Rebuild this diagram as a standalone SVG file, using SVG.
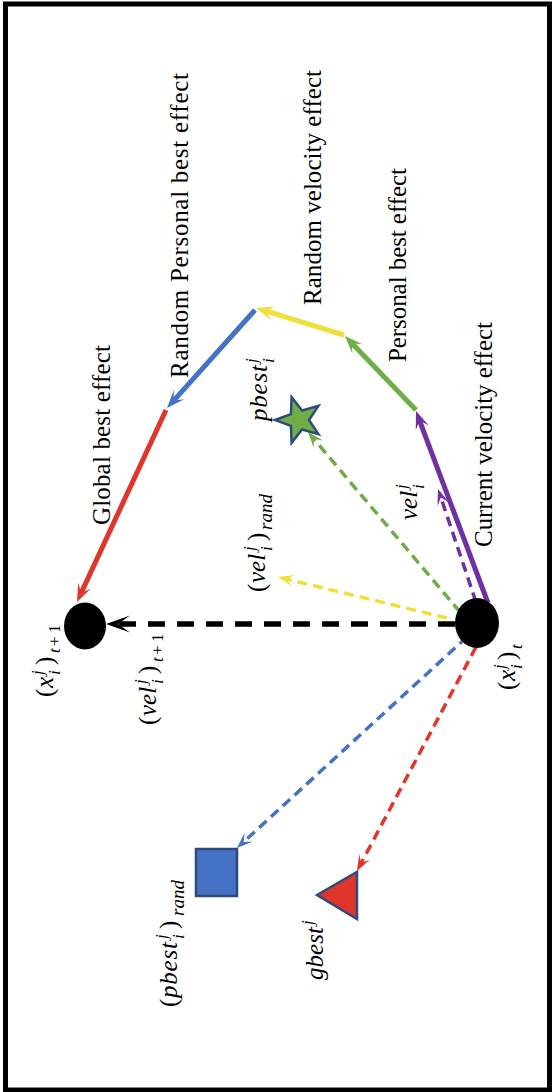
<svg xmlns="http://www.w3.org/2000/svg" width="552" height="1092" viewBox="0 0 552 1092">
<style>
.lbl{font-family:"Liberation Serif","Times New Roman",serif;font-size:25px;fill:#000}
.m{font-family:"Liberation Serif","Times New Roman",serif;font-size:25px;fill:#000}
.it{font-style:italic}
.s{font-size:17px}
.r{font-size:19px}
.sol{fill:none;stroke-width:5}
.dsh{fill:none;stroke-width:3.5;stroke-dasharray:10 6}
</style>
<defs>
<marker id="aP" markerUnits="userSpaceOnUse" orient="auto" overflow="visible" markerWidth="1" markerHeight="1"><path d="M10,0 L-8,-7 L0,0 L-8,7 Z" fill="#7030A0"/></marker>
<marker id="aG" markerUnits="userSpaceOnUse" orient="auto" overflow="visible" markerWidth="1" markerHeight="1"><path d="M10,0 L-8,-7 L0,0 L-8,7 Z" fill="#70AD47"/></marker>
<marker id="aY" markerUnits="userSpaceOnUse" orient="auto" overflow="visible" markerWidth="1" markerHeight="1"><path d="M10,0 L-8,-7 L0,0 L-8,7 Z" fill="#EEE038"/></marker>
<marker id="aB" markerUnits="userSpaceOnUse" orient="auto" overflow="visible" markerWidth="1" markerHeight="1"><path d="M10,0 L-8,-7 L0,0 L-8,7 Z" fill="#4472C4"/></marker>
<marker id="aR" markerUnits="userSpaceOnUse" orient="auto" overflow="visible" markerWidth="1" markerHeight="1"><path d="M10,0 L-8,-7 L0,0 L-8,7 Z" fill="#E0352A"/></marker>
<marker id="dP" markerUnits="userSpaceOnUse" orient="auto" overflow="visible" markerWidth="1" markerHeight="1"><path d="M9,0 L-7,-6 L0,0 L-7,6 Z" fill="#7030A0"/></marker>
<marker id="dG" markerUnits="userSpaceOnUse" orient="auto" overflow="visible" markerWidth="1" markerHeight="1"><path d="M9,0 L-7,-6 L0,0 L-7,6 Z" fill="#70AD47"/></marker>
<marker id="dY" markerUnits="userSpaceOnUse" orient="auto" overflow="visible" markerWidth="1" markerHeight="1"><path d="M9,0 L-7,-6 L0,0 L-7,6 Z" fill="#EEE038"/></marker>
<marker id="dB" markerUnits="userSpaceOnUse" orient="auto" overflow="visible" markerWidth="1" markerHeight="1"><path d="M9,0 L-7,-6 L0,0 L-7,6 Z" fill="#4472C4"/></marker>
<marker id="dR" markerUnits="userSpaceOnUse" orient="auto" overflow="visible" markerWidth="1" markerHeight="1"><path d="M9,0 L-7,-6 L0,0 L-7,6 Z" fill="#E0352A"/></marker>
<marker id="aK" markerUnits="userSpaceOnUse" orient="auto" overflow="visible" markerWidth="1" markerHeight="1"><path d="M12,0 L-12,-8.5 L0,0 L-12,8.5 Z" fill="#000"/></marker>
</defs>

<rect id="frame" x="5.5" y="4" width="544" height="1086" fill="none" stroke="#000" stroke-width="5"/>

<g id="connectors">
  <line x1="455" y1="624" x2="118" y2="624" stroke="#000" stroke-width="5.5" stroke-dasharray="17 12" marker-end="url(#aK)"/>
  <line class="sol" x1="488" y1="603" x2="419.5" y2="420.4" stroke="#7030A0" marker-end="url(#aP)"/>
  <line class="sol" x1="416" y1="410" x2="351.9" y2="343.2" stroke="#70AD47" marker-end="url(#aG)"/>
  <line class="sol" x1="344" y1="335" x2="265.6" y2="310.9" stroke="#EEE038" marker-end="url(#aY)"/>
  <line class="sol" x1="255" y1="310" x2="173.7" y2="400.6" stroke="#4472C4" marker-end="url(#aB)"/>
  <line class="sol" x1="166" y1="410" x2="81.2" y2="592.9" stroke="#E0352A" marker-end="url(#aR)"/>
  <line class="dsh" x1="476" y1="602" x2="440.9" y2="497.5" stroke="#7030A0" marker-end="url(#dP)"/>
  <line class="dsh" x1="460" y1="612" x2="313.8" y2="438.9" stroke="#70AD47" marker-end="url(#dG)"/>
  <line class="dsh" x1="447" y1="618" x2="286.7" y2="579.1" stroke="#EEE038" marker-end="url(#dY)"/>
  <line class="dsh" x1="467" y1="637" x2="243.6" y2="841.9" stroke="#4472C4" marker-end="url(#dB)"/>
  <line class="dsh" x1="476" y1="647" x2="361.2" y2="863.1" stroke="#E0352A" marker-end="url(#dR)"/>
</g>

<g id="x_t">
  <ellipse cx="477" cy="623" rx="22" ry="25" fill="#000"/>
  <g class="m" transform="translate(515,690) rotate(-90)">
    <text><tspan x="0" y="0">(</tspan><tspan class="it" x="9" y="0">x</tspan><tspan class="it s" x="21" y="-10">j</tspan><tspan class="it s" x="21" y="7">i</tspan><tspan x="30" y="0">)</tspan><tspan class="it s" x="41" y="7">t</tspan></text>
  </g>
</g>

<g id="x_t1">
  <ellipse cx="85" cy="626" rx="21" ry="23.5" fill="#000"/>
  <g class="m" transform="translate(53,697) rotate(-90)">
    <text><tspan x="0" y="0">(</tspan><tspan class="it" x="9" y="0">x</tspan><tspan class="it s" x="22" y="-10">j</tspan><tspan class="it s" x="22" y="7">i</tspan><tspan x="32" y="0">)</tspan><tspan class="it s" x="44" y="7">t</tspan><tspan class="s" x="51" y="7">+</tspan><tspan class="s" x="64" y="7">1</tspan></text>
  </g>
</g>

<g id="vel_t1">
  <g class="m" transform="translate(156,725) rotate(-90)">
    <text><tspan x="0" y="0">(</tspan><tspan class="it" x="9" y="0">vel</tspan><tspan class="it s" x="41" y="-10">j</tspan><tspan class="it s" x="41" y="7">i</tspan><tspan x="51" y="0">)</tspan><tspan class="it s" x="63" y="7">t</tspan><tspan class="s" x="70" y="7">+</tspan><tspan class="s" x="83" y="7">1</tspan></text>
  </g>
</g>

<g id="vel_rand">
  <g class="m" transform="translate(265,592) rotate(-90)">
    <text><tspan x="0" y="0">(</tspan><tspan class="it" x="9" y="0">vel</tspan><tspan class="it s" x="41" y="-10">j</tspan><tspan class="it s" x="41" y="7">i</tspan><tspan x="51" y="0">)</tspan><tspan class="it r" x="62" y="7">rand</tspan></text>
  </g>
</g>

<g id="vel">
  <g class="m" transform="translate(417,520) rotate(-90)">
    <text><tspan class="it" x="0" y="0">vel</tspan><tspan class="it s" x="31" y="-10">j</tspan><tspan class="it s" x="31" y="7">i</tspan></text>
  </g>
</g>

<g id="pbest">
  <polygon points="275,420 290.9,414.1 291.6,397.2 302.1,410.5 318.4,405.9 309,420 318.4,434.1 302.1,429.5 291.6,442.8 290.9,425.9" fill="#70AD47" stroke="#2F4B7C" stroke-width="2.5" stroke-linejoin="miter"/>
  <g class="m" transform="translate(267,421) rotate(-90)">
    <text><tspan class="it" x="0" y="0" textLength="56">pbest</tspan><tspan class="it s" x="58" y="-10">j</tspan><tspan class="it s" x="58" y="7">i</tspan></text>
  </g>
</g>

<g id="pbest_rand">
  <rect x="196" y="849" width="41" height="47" fill="#4472C4" stroke="#2F4B7C" stroke-width="2.5"/>
  <g class="m" transform="translate(177,1007) rotate(-90)">
    <text><tspan x="0" y="0">(</tspan><tspan class="it" x="9" y="0" textLength="56">pbest</tspan><tspan class="it s" x="68" y="-10">j</tspan><tspan class="it s" x="68" y="7">i</tspan><tspan x="78" y="0">)</tspan><tspan class="it r" x="91" y="7">rand</tspan></text>
  </g>
</g>

<g id="gbest">
  <polygon points="317,895 357,872 357,919" fill="#E0352A" stroke="#2F4B7C" stroke-width="2.5"/>
  <g class="m" transform="translate(323,980) rotate(-90)">
    <text><tspan class="it" x="0" y="0" textLength="53">gbest</tspan><tspan class="it s" x="55" y="-10">j</tspan></text>
  </g>
</g>

<g id="labels">
  <text class="lbl" x="110" y="435" transform="rotate(-90 110 435)" text-anchor="middle" textLength="180">Global best effect</text>
  <text class="lbl" x="188" y="225.5" transform="rotate(-90 188 225.5)" text-anchor="middle" textLength="305">Random Personal best effect</text>
  <text class="lbl" x="321" y="187.5" transform="rotate(-90 321 187.5)" text-anchor="middle" textLength="235">Random velocity effect</text>
  <text class="lbl" x="406" y="265" transform="rotate(-90 406 265)" text-anchor="middle" textLength="194">Personal best effect</text>
  <text class="lbl" x="492" y="434.5" transform="rotate(-90 492 434.5)" text-anchor="middle" textLength="225">Current velocity effect</text>
</g>
</svg>
